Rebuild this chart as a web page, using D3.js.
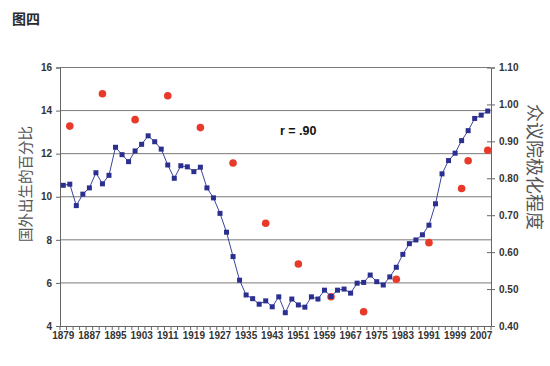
<!DOCTYPE html>
<html><head><meta charset="utf-8">
<script src="https://cdn.jsdelivr.net/npm/d3@7"></script>
<style>
body{margin:0;background:#fff;}
svg{display:block;font-family:"Liberation Sans",Arial,sans-serif;}
</style></head>
<body><svg id="c" width="550" height="366"></svg>
<script>
const years = d3.range(1879, 2010, 2);
const polarization = [0.781,0.784,0.726,0.757,0.774,0.815,0.785,0.808,0.884,0.864,
0.845,0.874,0.892,0.915,0.899,0.879,0.836,0.800,0.834,0.831,
0.818,0.830,0.774,0.747,0.705,0.654,0.588,0.524,0.484,0.474,
0.459,0.468,0.452,0.479,0.436,0.473,0.457,0.451,0.479,0.473,
0.497,0.480,0.497,0.500,0.489,0.516,0.518,0.538,0.520,0.511,
0.533,0.559,0.594,0.623,0.633,0.647,0.673,0.731,0.812,0.848,
0.868,0.902,0.929,0.962,0.971,0.982];
const foreignYears = [1881,1891,1901,1911,1921,1931,1941,1951,1961,1971,1981,1991,2001,2003,2009];
const foreignPct = [13.28,14.78,13.58,14.69,13.21,11.57,8.77,6.88,5.36,4.66,6.17,7.87,10.38,11.67,12.16];
const leftTicks = [4,6,8,10,12,14,16];
const rightTicks = [0.40,0.50,0.60,0.70,0.80,0.90,1.00,1.10];
const xLabelYears = years.filter((d,i)=>i%4===0);

const svg = d3.select("#c");
const L=60, R=491, T=67.5, B=326;
const x = d3.scaleBand().domain(years).range([L,R]).padding(0);
const yL = d3.scaleLinear().domain([4,16]).range([B,T]);
const yR = d3.scaleLinear().domain([0.40,1.10]).range([B,T]);

svg.append("text").attr("x",12).attr("y",24).attr("font-family","'Noto Sans CJK SC'")
  .attr("font-size",14).attr("font-weight","bold").attr("fill","#2a2a2a").text("图四");

// gridlines
svg.append("g").selectAll("line").data(leftTicks.filter(d=>d>4)).join("line")
  .attr("x1",L).attr("x2",R).attr("y1",d=>yL(d)).attr("y2",d=>yL(d))
  .attr("stroke","#7a7a7a").attr("stroke-width",1);

// left axis
const gl = svg.append("g").attr("transform",`translate(${L},0)`)
  .call(d3.axisLeft(yL).tickValues(leftTicks).tickSize(4).tickPadding(4).tickFormat(d3.format("d")));
gl.select(".domain").attr("stroke","#666");
gl.selectAll(".tick line").attr("stroke","#666");
gl.selectAll("text").attr("font-size",10).attr("font-weight","bold").attr("fill","#333").attr("font-family","'Liberation Sans',Arial");

// right axis
const gr = svg.append("g").attr("transform",`translate(${R},0)`)
  .call(d3.axisRight(yR).tickValues(rightTicks).tickSize(4).tickPadding(4).tickFormat(d3.format(".2f")));
gr.select(".domain").attr("stroke","#666");
gr.selectAll(".tick line").attr("stroke","#666").attr("x1",-4);
gr.selectAll("text").attr("font-size",10).attr("font-weight","bold").attr("fill","#333").attr("font-family","'Liberation Sans',Arial");

// bottom axis
const gb = svg.append("g").attr("transform",`translate(0,${B})`)
  .call(d3.axisBottom(x).tickValues(xLabelYears).tickSize(0).tickPadding(6));
gb.select(".domain").attr("stroke","#666");
gb.selectAll("text").attr("font-size",10).attr("font-weight","bold").attr("fill","#333").attr("font-family","'Liberation Sans',Arial");
svg.append("g").selectAll("line").data(years.concat([null])).join("line")
  .attr("x1",(d,i)=>L+i*x.bandwidth()).attr("x2",(d,i)=>L+i*x.bandwidth())
  .attr("y1",B).attr("y2",B+4).attr("stroke","#666");

// axis titles
svg.append("text").attr("transform","translate(31,184) rotate(-90)").attr("text-anchor","middle")
  .attr("font-family","'Noto Sans CJK SC'").attr("font-size",14.5).attr("fill","#555").text("国外出生的百分比");
svg.append("text").attr("transform","translate(528,167) rotate(90)").attr("text-anchor","middle")
  .attr("font-family","'Noto Sans CJK SC'").attr("font-size",18).attr("fill","#555").text("众议院极化程度");

const cx = d=>x(d)+x.bandwidth()/2;

// foreign-born dots (under the line)
svg.append("g").selectAll("circle").data(foreignYears.map((y,i)=>[y,foreignPct[i]])).join("circle")
  .attr("cx",d=>cx(d[0])).attr("cy",d=>yL(d[1])).attr("r",3.8).attr("fill","#e83a2a");

// polarization line
svg.append("path").datum(years.map((y,i)=>[y,polarization[i]]))
  .attr("fill","none").attr("stroke","#3c43a0").attr("stroke-width",1)
  .attr("d",d3.line().x(d=>cx(d[0])).y(d=>yR(d[1])));
svg.append("g").selectAll("rect").data(years.map((y,i)=>[y,polarization[i]])).join("rect")
  .attr("x",d=>cx(d[0])-2.5).attr("y",d=>yR(d[1])-2.5).attr("width",5).attr("height",5)
  .attr("fill","#2b2f8f");

svg.append("text").attr("x",280).attr("y",135).attr("font-size",12.5).attr("font-weight","bold")
  .attr("fill","#111").text("r = .90");
</script></body></html>
